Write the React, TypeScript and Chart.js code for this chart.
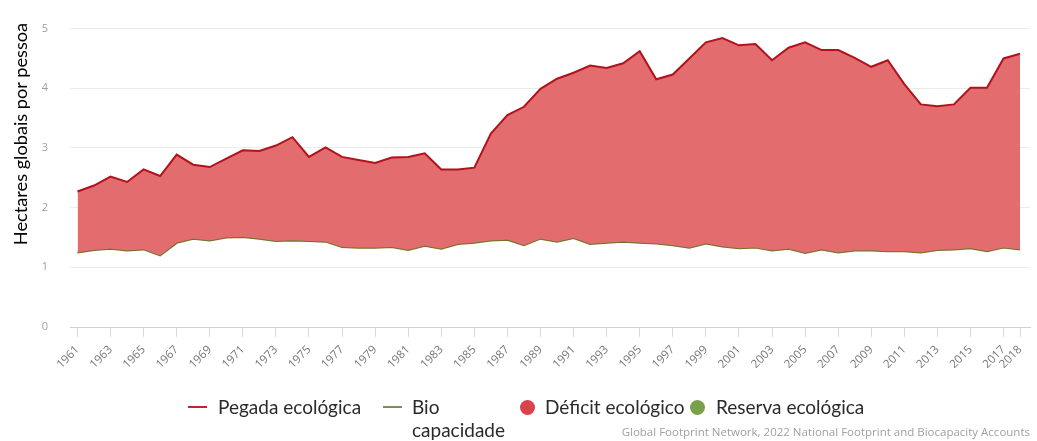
import React, { useEffect, useRef } from "react";
import { Chart, registerables } from "chart.js";

Chart.register(...registerables);

const years = [
  1961, 1962, 1963, 1964, 1965, 1966, 1967, 1968, 1969, 1970,
  1971, 1972, 1973, 1974, 1975, 1976, 1977, 1978, 1979, 1980,
  1981, 1982, 1983, 1984, 1985, 1986, 1987, 1988, 1989, 1990,
  1991, 1992, 1993, 1994, 1995, 1996, 1997, 1998, 1999, 2000,
  2001, 2002, 2003, 2004, 2005, 2006, 2007, 2008, 2009, 2010,
  2011, 2012, 2013, 2014, 2015, 2016, 2017, 2018,
];

const pegadaEcologica = [
  2.27, 2.37, 2.52, 2.43, 2.64, 2.53, 2.89, 2.72, 2.68, 2.82,
  2.96, 2.95, 3.04, 3.18, 2.85, 3.01, 2.85, 2.8, 2.75, 2.84,
  2.85, 2.91, 2.64, 2.64, 2.67, 3.24, 3.55, 3.69, 3.99, 4.16,
  4.26, 4.38, 4.34, 4.42, 4.62, 4.15, 4.23, 4.5, 4.77, 4.84,
  4.72, 4.74, 4.47, 4.68, 4.77, 4.64, 4.64, 4.51, 4.36, 4.47,
  4.07, 3.73, 3.7, 3.73, 4.01, 4.01, 4.5, 4.58,
];

const biocapacidade = [
  1.25, 1.29, 1.31, 1.28, 1.3, 1.2, 1.41, 1.48, 1.45, 1.5,
  1.51, 1.48, 1.44, 1.45, 1.44, 1.43, 1.34, 1.33, 1.33, 1.34,
  1.29, 1.36, 1.31, 1.39, 1.41, 1.45, 1.46, 1.37, 1.48, 1.43,
  1.49, 1.39, 1.41, 1.43, 1.41, 1.4, 1.37, 1.33, 1.4, 1.35,
  1.32, 1.33, 1.28, 1.31, 1.24, 1.3, 1.25, 1.28, 1.28, 1.27,
  1.27, 1.25, 1.29, 1.3, 1.32, 1.27, 1.33, 1.3,
];

const xTickYears = [
  1961, 1963, 1965, 1967, 1969, 1971, 1973, 1975, 1977, 1979,
  1981, 1983, 1985, 1987, 1989, 1991, 1993, 1995, 1997, 1999,
  2001, 2003, 2005, 2007, 2009, 2011, 2013, 2015, 2017, 2018,
];

const yTickValues = [0, 1, 2, 3, 4, 5];

const seriesNames = ["Pegada ecológica", "Bio capacidade"];
const yAxisTitle = "Hectares globais por pessoa";
const creditText =
  "Global Footprint Network, 2022 National Footprint and Biocapacity Accounts";

const FONT = "'Open Sans', 'DejaVu Sans', sans-serif";
const LEGEND_FONT = "Lato, 'Open Sans', sans-serif";

export default function App() {
  const ref = useRef<HTMLCanvasElement>(null);

  useEffect(() => {
    const prev = document.body.style.margin;
    document.body.style.margin = "0";
    const canvas = ref.current!;
    const chart = new Chart(canvas, {
      type: "line",
      data: {
        datasets: [
          {
            label: seriesNames[0],
            data: years.map((y, i) => ({ x: y, y: pegadaEcologica[i] })),
            borderColor: "#b1121c",
            borderWidth: 2,
            pointRadius: 0,
            tension: 0,
            fill: { target: 1, above: "#e36c6e", below: "#7ba24e" },
          },
          {
            label: seriesNames[1],
            data: years.map((y, i) => ({ x: y, y: biocapacidade[i] })),
            borderColor: "#7a6b2b",
            borderWidth: 2,
            pointRadius: 0,
            tension: 0,
            fill: false,
          },
        ],
      },
      options: {
        responsive: false,
        animation: false,
        layout: { padding: { top: 16, right: 7, left: 0, bottom: 0 } },
        plugins: {
          legend: { display: false },
          tooltip: { enabled: false },
        },
        scales: {
          x: {
            type: "linear",
            min: 1960.55,
            max: 2018.6,
            afterBuildTicks: (s: any) => {
              s.ticks = xTickYears.map((v) => ({ value: v }));
            },
            afterFit: (s: any) => {
              s.height = 114;
            },
            grid: {
              drawOnChartArea: false,
              drawTicks: true,
              tickLength: 10,
              color: "#dadada",
            },
            border: { display: true, color: "#d0d0d0" },
            ticks: {
              autoSkip: false,
              maxRotation: 45,
              minRotation: 45,
              padding: 6,
              color: "#777777",
              font: { family: FONT, size: 11.5 },
              callback: (v: any) => String(v),
            },
          },
          y: {
            min: 0,
            max: 5,
            afterBuildTicks: (s: any) => {
              s.ticks = yTickValues.map((v) => ({ value: v }));
            },
            afterFit: (s: any) => {
              s.width = 70;
            },
            grid: { color: "#ebebeb", drawTicks: false },
            border: { display: false },
            ticks: {
              padding: 22,
              color: "#a0a0a0",
              font: { family: FONT, size: 11 },
            },
          },
        },
      },
    });
    return () => {
      chart.destroy();
      document.body.style.margin = prev;
    };
  }, []);

  const legendText: React.CSSProperties = {
    position: "absolute",
    fontFamily: LEGEND_FONT,
    fontSize: 19,
    color: "#2a2a2a",
    lineHeight: "22px",
    whiteSpace: "nowrap",
  };

  return (
    <div
      style={{
        position: "relative",
        width: 1037,
        height: 441,
        overflow: "hidden",
        background: "#ffffff",
      }}
    >
      <canvas
        ref={ref}
        width={1037}
        height={441}
        style={{ position: "absolute", left: 0, top: 0, width: 1037, height: 441 }}
      />
      <div
        style={{
          position: "absolute",
          left: 20 - 150,
          top: 134 - 12,
          width: 300,
          height: 24,
          lineHeight: "24px",
          textAlign: "center",
          transform: "rotate(-90deg)",
          transformOrigin: "50% 50%",
          fontFamily: LEGEND_FONT,
          fontSize: 18.2,
          color: "#000000",
          whiteSpace: "nowrap",
        }}
      >
        {yAxisTitle}
      </div>

      <div style={{ position: "absolute", left: 188, top: 406, width: 19, height: 2, background: "#c4242c" }} />
      <div style={{ ...legendText, left: 218, top: 396 }}>Pegada ecológica</div>

      <div style={{ position: "absolute", left: 383, top: 406, width: 19, height: 2, background: "#7f8c5a" }} />
      <div style={{ ...legendText, left: 412, top: 396 }}>Bio</div>
      <div style={{ ...legendText, left: 412, top: 419 }}>capacidade</div>

      <div style={{ position: "absolute", left: 520, top: 400, width: 15, height: 15, borderRadius: 8, background: "#d9434b" }} />
      <div style={{ ...legendText, left: 545, top: 396 }}>Déficit ecológico</div>

      <div style={{ position: "absolute", left: 690, top: 400, width: 15, height: 15, borderRadius: 8, background: "#79a04b" }} />
      <div style={{ ...legendText, left: 716, top: 396 }}>Reserva ecológica</div>

      <div
        style={{
          position: "absolute",
          right: 7,
          top: 425,
          fontFamily: FONT,
          fontSize: 11.5,
          color: "#a0a0a0",
          lineHeight: "14px",
          whiteSpace: "nowrap",
        }}
      >
        {creditText}
      </div>
    </div>
  );
}
